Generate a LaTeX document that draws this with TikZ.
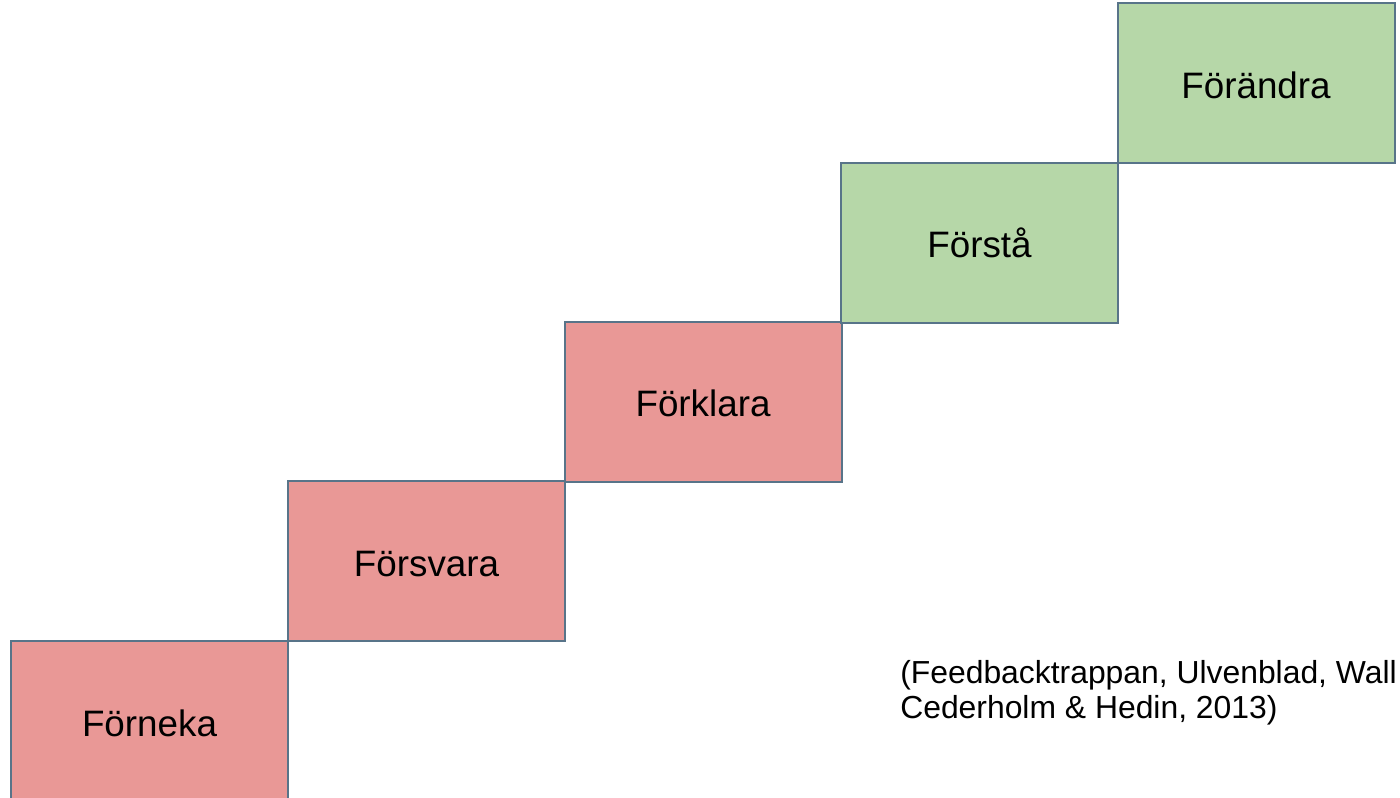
\documentclass[tikz,border=0pt]{standalone}
\usepackage{fontspec}
\setmainfont{Liberation Sans}
\definecolor{redfill}{HTML}{E99896}
\definecolor{greenfill}{HTML}{B6D7A8}
\definecolor{edge}{HTML}{587489}
\begin{document}
\begin{tikzpicture}[x=0.75pt,y=-0.75pt,
  stepbox/.style={draw=edge,line width=1.5pt,minimum width=277*0.75pt,minimum height=160*0.75pt,inner sep=0pt,text height=22.5pt,text depth=0pt,font=\fontsize{27.6}{33}\selectfont,text=black},
  redbox/.style={stepbox,fill=redfill},
  greenbox/.style={stepbox,fill=greenfill},
  cite/.style={font=\fontsize{23.9}{28}\selectfont,anchor=base west,inner sep=0pt}]
\useasboundingbox (0,0) rectangle (1400,797);
\clip (0,0) rectangle (1400,797);
\node[redbox] (forneka) at (149.5,721) {Förneka};
\node[redbox] (forsvara) at (426.5,561) {Försvara};
\node[redbox] (forklara) at (703,401.5) {Förklara};
\node[greenbox] (forsta) at (979.5,242.5) {Förstå};
\node[greenbox] (forandra) at (1256,83) {Förändra};
\node[cite] (cite1) at (900,683) {(Feedbacktrappan, Ulvenblad, Wall};
\node[cite] (cite2) at (900,718) {Cederholm \& Hedin, 2013)};
\end{tikzpicture}
\end{document}
